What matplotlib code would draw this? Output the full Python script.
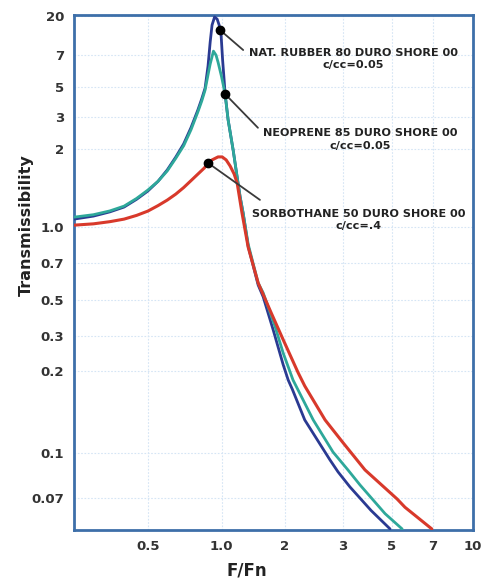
import numpy as np
import matplotlib
matplotlib.use("Agg")
import matplotlib.pyplot as plt

# ---------------- data ----------------
rubber_x = [0.25, 0.3, 0.35, 0.4, 0.45, 0.5, 0.55, 0.6, 0.65, 0.7, 0.75, 0.8, 0.83, 0.856,
            0.880, 0.898, 0.914, 0.936, 0.959, 0.977, 0.995, 1.011, 1.028, 1.039, 1.074,
            1.135, 1.186, 1.226, 1.267, 1.339, 1.494, 1.579, 1.762, 1.967, 2.05, 2.11,
            2.30, 2.74, 2.90, 3.23, 4.03, 4.92]
rubber_y = [1.074, 1.103, 1.145, 1.195, 1.28, 1.377, 1.50, 1.660, 1.86, 2.13, 2.62, 3.38, 4.1,
            4.91, 6.24, 9.93, 15.7, 19.5, 18.4, 15.7, 12.0, 6.64, 5.38, 4.44, 2.89,
            1.98, 1.559, 1.305, 1.132, 0.828, 0.573, 0.514, 0.327, 0.215, 0.185, 0.171,
            0.132, 0.0946, 0.0860, 0.0764, 0.0635, 0.0549]

neoprene_x = [0.25, 0.3, 0.35, 0.4, 0.45, 0.5, 0.55, 0.6, 0.65, 0.7, 0.75, 0.8, 0.83, 0.856,
              0.883, 0.898, 0.926, 0.949, 0.967, 1.0, 1.039, 1.074, 1.135, 1.186, 1.226,
              1.267, 1.339, 1.494, 1.579, 1.801, 1.967, 2.12, 2.44, 2.80, 3.16, 3.59,
              4.67, 5.45]
neoprene_y = [1.093, 1.117, 1.155, 1.205, 1.29, 1.389, 1.50, 1.645, 1.84, 2.08, 2.55, 3.27, 3.95,
              4.75, 5.80, 6.37, 7.80, 7.0, 6.50, 5.56, 4.44, 2.89, 1.98, 1.559, 1.305,
              1.132, 0.845, 0.584, 0.533, 0.341, 0.246, 0.185, 0.132, 0.1006, 0.0874, 0.0776,
              0.0619, 0.0549]

sorbo_x = [0.25, 0.3, 0.35, 0.4, 0.45, 0.5, 0.55, 0.6, 0.65, 0.7, 0.75, 0.8, 0.85, 0.880,
           0.914, 0.967, 1.006, 1.051, 1.098, 1.147, 1.186, 1.249, 1.339, 1.494, 1.724,
           1.967, 2.196, 2.30, 2.65, 3.0, 3.78, 5.23, 5.58, 6.95]
sorbo_y = [1.018, 1.030, 1.05, 1.074, 1.11, 1.153, 1.21, 1.271, 1.34, 1.42, 1.51, 1.60, 1.689,
           1.766, 1.814, 1.863, 1.863, 1.814, 1.719, 1.602, 1.479, 1.143, 0.820, 0.584, 0.416,
           0.287, 0.197, 0.176, 0.132, 0.109, 0.0874, 0.0695, 0.0651, 0.0549]

labels = ["NAT. RUBBER 80 DURO SHORE 00\nc/cc=0.05",
          "NEOPRENE 85 DURO SHORE 00\nc/cc=0.05",
          "SORBOTHANE 50 DURO SHORE 00\nc/cc=.4"]
dot_x = [0.986, 1.039, 0.880]
dot_y = [13.7, 4.44, 1.766]

x_ticks = [0.5, 1, 2, 3, 5, 7, 10]
x_tick_labels = ["0.5", "1.0", "2", "3", "5", "7", "10"]
y_ticks = [0.07, 0.1, 0.2, 0.3, 0.5, 0.7, 1, 2, 3, 5, 7, 20]
y_tick_labels = ["0.07", "0.1", "0.2", "0.3", "0.5", "0.7", "1.0", "2", "3", "5", "7", "20"]

# ---------------- layout: where each tick sits along its axis (axes fraction) -------------
x_tick_pos = [0.185, 0.370, 0.528, 0.674, 0.796, 0.899, 1.0]
y_tick_pos = [0.062, 0.150, 0.309, 0.377, 0.447, 0.518, 0.588, 0.740, 0.802, 0.860, 0.922, 0.998]


def make_scale(vals, pos):
    lv = np.log10(np.asarray(vals, float))
    p = np.asarray(pos, float)
    s0 = (p[1] - p[0]) / (lv[1] - lv[0])
    s1 = (p[-1] - p[-2]) / (lv[-1] - lv[-2])

    def fwd(v):
        v = np.asarray(v, float)
        l = np.log10(np.clip(v, 1e-12, None))
        out = np.interp(l, lv, p)
        out = np.where(l < lv[0], p[0] + (l - lv[0]) * s0, out)
        out = np.where(l > lv[-1], p[-1] + (l - lv[-1]) * s1, out)
        return out

    def inv(q):
        q = np.asarray(q, float)
        l = np.interp(q, p, lv)
        l = np.where(q < p[0], lv[0] + (q - p[0]) / s0, l)
        l = np.where(q > p[-1], lv[-1] + (q - p[-1]) / s1, l)
        return 10 ** l

    return fwd, inv


xf, xi = make_scale(x_ticks, x_tick_pos)
yf, yi = make_scale(y_ticks, y_tick_pos)

plt.rcParams['font.family'] = ['DejaVu Sans']

fig = plt.figure(figsize=(4.88, 5.79), dpi=100)
ax = fig.add_axes([74 / 488, 49 / 579, 399 / 488, 515 / 579])
ax.set_xscale('function', functions=(xf, xi))
ax.set_yscale('function', functions=(yf, yi))
ax.set_xlim(float(xi(0.0)), float(xi(1.0)))
ax.set_ylim(float(yi(0.0)), float(yi(1.0)))

ax.set_xticks(x_ticks)
ax.set_xticklabels(x_tick_labels)
ax.set_yticks(y_ticks)
ax.set_yticklabels(y_tick_labels)
ax.minorticks_off()
ax.tick_params(length=0, labelsize=9.5, colors='#333333', pad=7)
for lab in ax.get_xticklabels() + ax.get_yticklabels():
    lab.set_fontweight('bold')

ax.grid(True, color='#d5e5f5', linewidth=0.8, linestyle=(0, (1.5, 1.5)))
ax.set_axisbelow(True)

for sp in ax.spines.values():
    sp.set_color('#3d6fa9')
    sp.set_linewidth(2.0)

ax.plot(rubber_x, rubber_y, color='#2a3a92', lw=2.0, solid_capstyle='round',
        solid_joinstyle='round', zorder=3)
ax.plot(neoprene_x, neoprene_y, color='#2ea89a', lw=2.0, solid_capstyle='round',
        solid_joinstyle='round', zorder=4)
ax.plot(sorbo_x, sorbo_y, color='#d8392b', lw=2.2, solid_capstyle='round',
        solid_joinstyle='round', zorder=5)

# leader lines, dots and labels
line_end = [(0.424, 0.932), (0.461, 0.781), (0.466, 0.641)]
text_pos = [(0.700, 0.914), (0.717, 0.758), (0.714, 0.602)]
for i in range(3):
    ax.annotate('', xy=(dot_x[i], dot_y[i]), xycoords='data',
                xytext=line_end[i], textcoords='axes fraction',
                arrowprops=dict(arrowstyle='-', color='#3a3a3a', lw=1.3,
                                shrinkA=0, shrinkB=0), zorder=6)
    ax.text(text_pos[i][0], text_pos[i][1], labels[i], transform=ax.transAxes,
            ha='center', va='center', fontsize=8.1, fontweight='bold',
            color='#222222', linespacing=1.3, zorder=7)
ax.plot(dot_x, dot_y, 'o', color='black', ms=6, zorder=8)

ax.set_ylabel('Transmissibility', fontsize=11.5, fontweight='bold', color='#222222',
              va='center', ha='center')
ax.yaxis.set_label_coords(-0.120, 0.592)
ax.set_xlabel('F/Fn', fontsize=12, fontweight='bold', color='#222222',
              va='center', ha='center')
ax.xaxis.set_label_coords(0.434, -0.078)

fig.savefig('out.png', dpi=100)
